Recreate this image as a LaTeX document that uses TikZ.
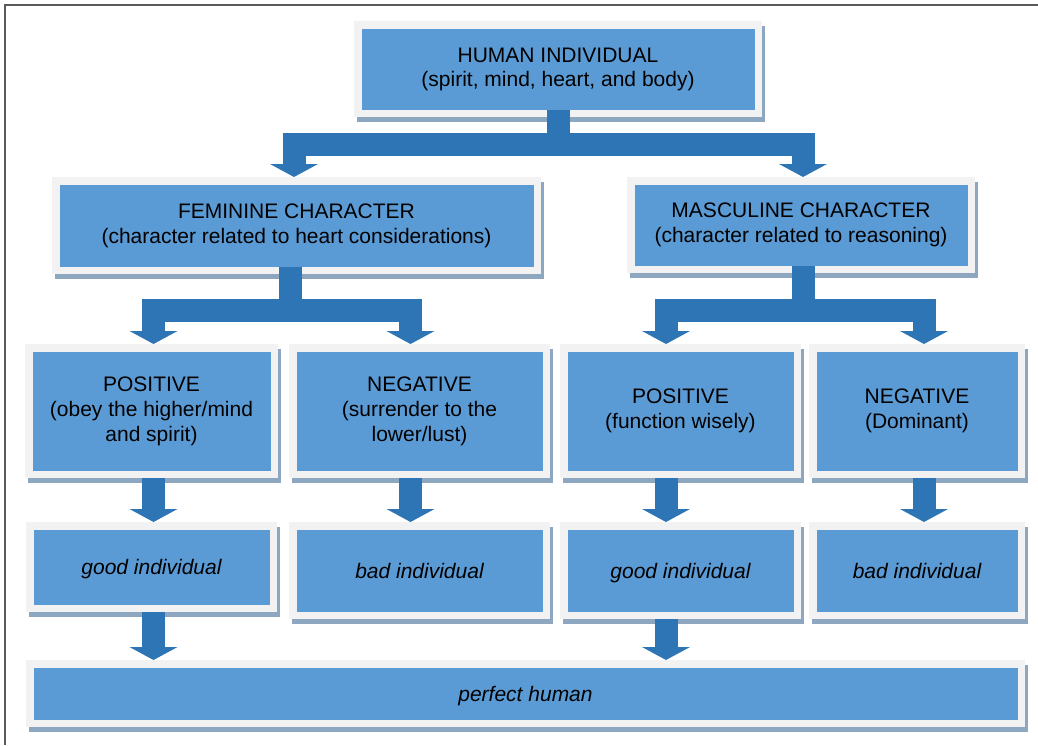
\documentclass[tikz,border=0pt]{standalone}
\usepackage{fontspec}
\setmainfont{Liberation Sans}
\usetikzlibrary{arrows.meta,calc,shadows}

\definecolor{boxblue}{HTML}{5B9BD5}
\definecolor{framegray}{HTML}{F2F2F2}
\definecolor{shadowgray}{HTML}{8EA7C0}
\definecolor{arrowblue}{HTML}{2E75B6}
\definecolor{linegray}{HTML}{5A5A5A}

\begin{document}
\begin{tikzpicture}[x=1pt, y=-1pt, bigarrow/.style={arrowblue, line width=23pt, line join=miter, -{Triangle[width=48pt, length=13pt, line width=0pt]}}]
	\tikzstyle{box}=[rectangle, fill=boxblue, draw=framegray, line width=7.5pt, inner sep=0pt, align=center, text=black, font=\fontsize{21}{25}\selectfont, general shadow={fill=shadowgray, draw=shadowgray, line width=7.5pt, shadow xshift=3pt, shadow yshift=-5pt}]
	\tikzstyle{itbox}=[box, font=\fontsize{21}{25}\selectfont\itshape, text height=16pt, text depth=1pt]
	
	\useasboundingbox (0,0) rectangle (1038,745);
	\draw [linegray, line width=1.5pt] (5,745) |- (1038,5);
	
	\node [box, minimum width=400.5, minimum height=88.5, font=\fontsize{21}{24}\selectfont] (1) at (558,69) {HUMAN INDIVIDUAL\\(spirit, mind, heart, and body)};
	
	\node [box, minimum width=481.5, minimum height=89.5] (2) at ($(1)+(-261.5,156.5)$) {FEMININE CHARACTER\\(character related to heart considerations)};
	\node [box, minimum width=340.5, minimum height=88.5] (3) at ($(1)+(243,156)$) {MASCULINE CHARACTER\\(character related to reasoning)};
	
	\node [box, minimum width=245.5, minimum height=126.5] (4) at ($(2)+(-145,185.5)$) {POSITIVE\\(obey the higher/mind\\and spirit)};
	\node [box, minimum width=253.5, minimum height=126.5] (5) at ($(4)+(268,0)$) {NEGATIVE\\(surrender to the\\lower/lust)};
	\node [box, minimum width=233.5, minimum height=126.5] (6) at ($(5)+(261,0)$) {POSITIVE\\(function wisely)};
	\node [box, minimum width=208.5, minimum height=126.5] (7) at ($(6)+(236.5,0)$) {NEGATIVE\\(Dominant)};
	
	\node [itbox, minimum width=243.5, minimum height=82.5] (8) at ($(4)+(0,156)$) {good individual};
	\node [itbox, minimum width=253.5, minimum height=89.5] (9) at ($(5)+(0,159.5)$) {bad individual};
	\node [itbox, minimum width=233.5, minimum height=89.5] (10) at ($(6)+(0,159.5)$) {good individual};
	\node [itbox, minimum width=208.5, minimum height=89.5] (11) at ($(7)+(0,159.5)$) {bad individual};
	
	\node [itbox, minimum width=991.5, minimum height=59.5] (12) at (525.5,693.5) {perfect human};
	
	\draw [bigarrow] ([yshift=7.5pt]1.south) -- ++(0,35) -| ([xshift=-2.5pt]2.north);
	\draw [bigarrow] ([yshift=7.5pt]1.south) -- ++(0,35) -| ([xshift=2pt]3.north);
	\draw [bigarrow] ([xshift=-6pt,yshift=7.5pt]2.south) -- ++(0,44) -| ([xshift=2pt]4.north);
	\draw [bigarrow] ([xshift=-6pt,yshift=7.5pt]2.south) -- ++(0,44) -| ([xshift=-9pt]5.north);
	\draw [bigarrow] ([xshift=2.5pt,yshift=7.5pt]3.south) -- ++(0,45) -| ([xshift=-14.5pt]6.north);
	\draw [bigarrow] ([xshift=2.5pt,yshift=7.5pt]3.south) -- ++(0,45) -| ([xshift=7pt]7.north);
	\draw [bigarrow] ([xshift=2pt]4.south) -- ([xshift=2pt]8.north);
	\draw [bigarrow] ([xshift=-9pt]5.south) -- ([xshift=-9pt]9.north);
	\draw [bigarrow] ([xshift=-14.5pt]6.south) -- ([xshift=-14.5pt]10.north);
	\draw [bigarrow] ([xshift=7pt]7.south) -- ([xshift=7pt]11.north);
	\draw [bigarrow] ([xshift=2pt]8.south) -- ([xshift=2pt]8.south |- 12.north);
	\draw [bigarrow] ([xshift=-14.5pt]10.south) -- ([xshift=-14.5pt]10.south |- 12.north);
\end{tikzpicture}
\end{document}
